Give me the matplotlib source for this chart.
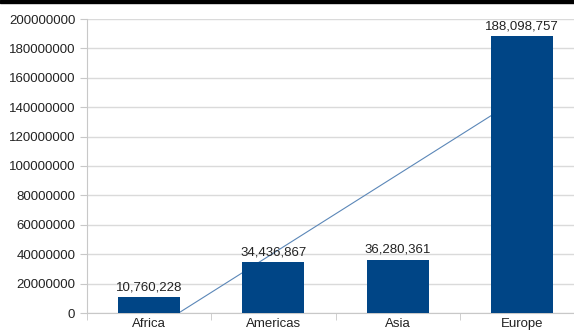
import numpy as np
import matplotlib
matplotlib.use("Agg")
import matplotlib.pyplot as plt
from matplotlib.patches import Rectangle
from matplotlib.ticker import MultipleLocator, FuncFormatter

regions = ["Africa", "Americas", "Asia", "Europe"]
values = [10760228, 34436867, 36280361, 188098757]

plt.rcParams['font.family'] = ['Liberation Sans', 'DejaVu Sans']

fig = plt.figure(figsize=(5.74, 3.33), dpi=100)
ax = fig.add_axes([87 / 574, 20 / 333, 497 / 574, 294 / 333])

x = np.arange(len(regions))
bars = ax.bar(x, values, width=0.5, color="#004586", zorder=3)

# linear trend line (behind the bars)
k, b = np.polyfit(x, values, 1)
ax.plot(x, k * x + b, color="#5b87b8", lw=0.8, zorder=2)

for xi, v in zip(x, values):
    ax.annotate(f"{v:,}", (xi, v), xytext=(0, 3), textcoords="offset points",
                ha="center", va="bottom", fontsize=9.5, color="#222222")

ax.set_xlim(-0.5, 3.5)
ax.set_ylim(0, 200000000)
ax.yaxis.set_major_locator(MultipleLocator(20000000))
ax.yaxis.set_major_formatter(FuncFormatter(lambda v, p: f"{int(v)}"))
ax.grid(axis="y", color="#dadada", lw=1, zorder=0)
ax.set_axisbelow(True)

ax.set_xticks(x)
ax.set_xticklabels(regions)
ax.set_xticks(np.arange(-0.5, 4, 1), minor=True)
ax.tick_params(axis="x", which="major", length=0, pad=3.5, labelsize=9.5, colors="#222222")
ax.tick_params(axis="x", which="minor", length=5, color="#c8c8c8")
ax.tick_params(axis="y", length=5, color="#c8c8c8", labelsize=9.5, labelcolor="#222222")

for s in ["top", "right"]:
    ax.spines[s].set_visible(False)
for s in ["left", "bottom"]:
    ax.spines[s].set_color("#c8c8c8")

fig.add_artist(Rectangle((0, 1 - 3 / 333), 1, 3 / 333, transform=fig.transFigure,
                         color="black", zorder=10))

fig.savefig("out.png", dpi=100)
